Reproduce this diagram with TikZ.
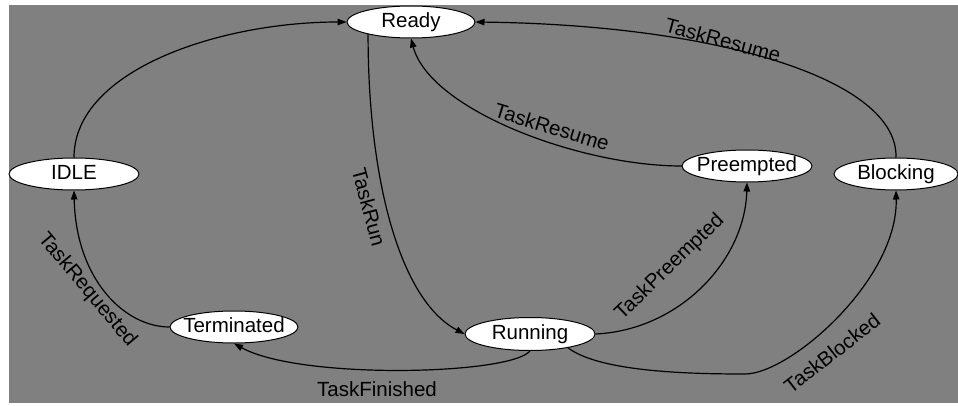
\documentclass[tikz,border=0pt]{standalone}
\usepackage{fontspec}
\setmainfont{Liberation Sans}
\usetikzlibrary{shapes.geometric,arrows.meta}
\definecolor{bggray}{HTML}{808080}
\begin{document}
\begin{tikzpicture}[x=1pt,y=-1pt,
  state/.style={ellipse, draw=black, line width=1pt, fill=white, inner sep=0pt,
    minimum width=128pt, minimum height=32pt, text height=13.5pt, text depth=2.5pt,
    font=\fontsize{20.5}{24}\selectfont},
  trans/.style={draw=black, line width=1.2pt, -{Triangle[length=9pt,width=6.5pt]}},
  lab/.style={font=\fontsize{20.5}{24}\selectfont, inner sep=0pt}]
\useasboundingbox (0,0) rectangle (958,406);
\fill[white] (0,0) rectangle (958,406);
\fill[bggray] (9,5) rectangle (958,403);

\node[state] (Ready) at (411,22) {\makebox[0pt]{Ready}};
\node[state, minimum width=130pt] (IDLE) at (74,174) {\makebox[0pt]{IDLE}};
\node[state, minimum width=130pt] (Preempted) at (747,166) {\makebox[0pt]{Preempted}};
\node[state, minimum width=124pt] (Blocking) at (896,174) {\makebox[0pt]{Blocking}};
\node[state] (Terminated) at (234,327) {\makebox[0pt]{Terminated}};
\node[state, minimum width=130pt, minimum height=33pt] (Running) at (530,334) {\makebox[0pt]{Running}};

\draw[trans] (IDLE.north) .. controls (74,70) and (220,22) .. (Ready.west);
\draw[trans] (Ready.196) .. controls (368,180) and (400,300) .. (Running.west);
\draw[trans] (Preempted.west) .. controls (580,166) and (430,110) .. (Ready.south);
\draw[trans] (Blocking.north) .. controls (898,80) and (720,25) .. (Ready.east);
\draw[trans] (Running.east) .. controls (680,330) and (745,260) .. (Preempted.south);
\draw[trans] (Running.-20) .. controls (600,372) and (690,374) .. (745,374)
   .. controls (790,374) and (898,280) .. (Blocking.south);
\draw[trans] (Running.south) .. controls (510,375) and (300,380) .. (Terminated.south);
\draw[trans] (Terminated.west) .. controls (125,327) and (76,280) .. (IDLE.south);

\node[lab, rotate=-75] (lRun) at (369,207) {TaskRun};
\node[lab, rotate=-50] (lReq) at (87,290) {TaskRequested};
\node[lab, rotate=44] (lPre) at (670,267) {TaskPreempted};
\node[lab, rotate=38] (lBlk) at (832,353) {TaskBlocked};
\node[lab] (lFin) at (377,389) {TaskFinished};
\node[lab, rotate=-15] (lRes1) at (723,40) {TaskResume};
\node[lab, rotate=-17] (lRes2) at (552,127) {TaskResume};
\end{tikzpicture}
\end{document}
